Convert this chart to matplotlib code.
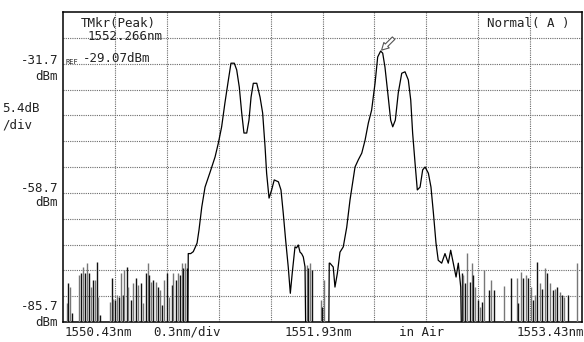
"""
OSA screen: two multi-peak spectra, 1550.43 - 1553.43 nm
"""
import numpy as np
import matplotlib
matplotlib.use("Agg")
import matplotlib.pyplot as plt

# --- data (nm, dBm) -------------------------------------------------------
# values below the display floor are written as -95
hump1_wl = [1551.150, 1551.154, 1551.168, 1551.183, 1551.193, 1551.205, 1551.216,
            1551.232, 1551.251, 1551.280, 1551.309, 1551.328, 1551.347, 1551.366,
            1551.386, 1551.401, 1551.420, 1551.434, 1551.449, 1551.463, 1551.476,
            1551.492, 1551.505, 1551.517, 1551.530, 1551.550, 1551.569, 1551.584,
            1551.598, 1551.607, 1551.621, 1551.636, 1551.651, 1551.675, 1551.690,
            1551.703, 1551.717, 1551.732, 1551.744, 1551.755, 1551.771, 1551.780,
            1551.790, 1551.800, 1551.809, 1551.819, 1551.829, 1551.835]
hump1_dbm = [-95, -71.4, -71.4, -71.0, -70.2, -69.2, -66.5,
             -61.7, -57.5, -54.4, -51.2, -48.3, -44.9, -39.9,
             -35.1, -31.6, -31.6, -33.0, -36.6, -42.0, -46.2,
             -46.2, -43.5, -38.7, -35.8, -35.8, -38.7, -42.0,
             -49.1, -54.6, -59.8, -58.1, -56.0, -56.4, -58.1,
             -62.9, -68.6, -74.2, -79.7, -75.5, -70.0, -70.2,
             -69.6, -71.1, -71.4, -72.1, -74.2, -95]

hump2_wl = [1551.965, 1551.969, 1551.973, 1551.992, 1552.002, 1552.016, 1552.031,
            1552.050, 1552.070, 1552.089, 1552.118, 1552.137, 1552.157, 1552.176,
            1552.195, 1552.214, 1552.234, 1552.249, 1552.266, 1552.278, 1552.291,
            1552.310, 1552.324, 1552.336, 1552.351, 1552.368, 1552.388, 1552.407,
            1552.426, 1552.440, 1552.451, 1552.465, 1552.478, 1552.494, 1552.509,
            1552.523, 1552.542, 1552.557, 1552.571, 1552.586, 1552.599, 1552.619,
            1552.638, 1552.657, 1552.671, 1552.686, 1552.702, 1552.715, 1552.729,
            1552.736]
hump2_dbm = [-95, -73.4, -73.4, -74.2, -78.4, -75.5, -71.1,
             -70.0, -65.9, -60.2, -53.3, -51.8, -50.4, -47.7,
             -44.1, -41.4, -35.7, -30.3, -29.07, -29.5, -32.4,
             -38.7, -43.5, -44.9, -43.5, -37.8, -33.7, -33.4,
             -35.1, -39.3, -46.2, -52.5, -58.1, -57.5, -53.9,
             -53.3, -54.6, -57.5, -62.9, -69.2, -72.8, -73.4,
             -71.4, -73.4, -70.7, -73.4, -76.3, -73.4, -78.4,
             -95]

# noise floor spikes (tops)
noise_wl = [1550.451, 1550.461, 1550.470, 1550.480, 1550.522, 1550.532, 1550.544,
            1550.557, 1550.570, 1550.582, 1550.592, 1550.602, 1550.615, 1550.625,
            1550.634, 1550.644, 1550.702, 1550.712, 1550.721, 1550.731, 1550.744,
            1550.754, 1550.764, 1550.775, 1550.784, 1550.798, 1550.807, 1550.821,
            1550.833, 1550.852, 1550.865, 1550.879, 1550.891, 1550.908, 1550.920,
            1550.929, 1550.939, 1550.952, 1550.966, 1550.977, 1550.991, 1551.004,
            1551.016, 1551.029, 1551.043, 1551.058, 1551.068, 1551.081, 1551.095,
            1551.106, 1551.116, 1551.125, 1551.135, 1551.145,
            1551.839, 1551.848, 1551.858, 1551.868, 1551.920, 1551.929, 1551.940,
            1552.735, 1552.744, 1552.754, 1552.768, 1552.783, 1552.792, 1552.802,
            1552.812, 1552.831, 1552.840, 1552.850, 1552.863, 1552.894, 1552.904,
            1552.921, 1552.979, 1553.018, 1553.053, 1553.062, 1553.076, 1553.091,
            1553.106, 1553.120, 1553.133, 1553.145, 1553.158, 1553.172, 1553.187,
            1553.200, 1553.216, 1553.229, 1553.245, 1553.261, 1553.274, 1553.287,
            1553.303, 1553.313, 1553.326, 1553.351, 1553.399]
noise_dbm = [-81.7, -77.6, -78.3, -83.8, -75.9, -75.5, -74.1,
             -75.5, -73.4, -75.5, -78.3, -76.9, -76.9, -73.1,
             -80.4, -84.2, -81.5, -76.6, -80.8, -81.1, -80.1,
             -80.4, -75.5, -80.1, -74.8, -74.1, -78.3, -81.1,
             -77.6, -76.6, -78.0, -77.6, -81.8, -75.5, -73.4,
             -75.9, -77.3, -76.9, -77.3, -78.3, -79.0, -82.2,
             -76.9, -75.5, -80.4, -78.0, -75.5, -76.9, -75.5,
             -75.9, -73.4, -74.5, -73.4, -74.5,
             -73.8, -74.4, -73.4, -74.8, -81.1, -82.5, -76.9,
             -75.5, -75.9, -77.6, -71.3, -77.3, -73.4, -75.9,
             -78.3, -81.1, -82.5, -81.5, -74.8, -79.0, -76.9,
             -79.0, -78.2, -76.4, -76.6, -81.8, -75.2, -76.6,
             -75.9, -76.6, -78.3, -81.1, -80.1, -73.1, -77.6,
             -78.7, -74.5, -75.5, -77.6, -79.0, -78.7, -78.3,
             -79.4, -80.1, -80.4, -80.1, -73.3]

x_start, x_span = 1550.43, 3.0
ref_level, db_div = -31.7, 5.4
peak_wl, peak_dbm = 1552.266, -29.07

# --- figure ----------------------------------------------------------------
W, H = 584, 342
fig = plt.figure(figsize=(W / 100, H / 100), dpi=100)
ax = fig.add_axes([63 / W, (H - 322) / H, (582 - 63) / W, 310 / H])

y_top = ref_level + 2 * db_div
y_bot = ref_level - 10 * db_div
ax.set_xlim(x_start, x_start + x_span)
ax.set_ylim(y_bot, y_top)

# dotted grid
for i in range(1, 10):
    ax.axvline(x_start + i * x_span / 10, color="#6a6a6a", lw=0.8, ls=(0, (1, 1)), zorder=1)
for j in range(1, 12):
    ax.axhline(y_bot + j * db_div, color="#6a6a6a", lw=0.8, ls=(0, (1, 1)), zorder=1)

ax.set_xticks([])
ax.set_yticks([])
for s in ax.spines.values():
    s.set_linewidth(1.1)
    s.set_color("black")

# noise spikes (alternate dark / gray like the screen dump)
cols = ["#111111" if k % 2 else "#777777" for k in range(len(noise_wl))]
ax.vlines(noise_wl, -95, noise_dbm, colors=cols, lw=1.0, zorder=3)

ax.plot(hump1_wl, hump1_dbm, color="black", lw=0.9, zorder=4)
ax.plot(hump2_wl, hump2_dbm, color="black", lw=0.9, zorder=4)

# peak marker arrow
ax.annotate("", xy=(peak_wl, peak_dbm), xytext=(peak_wl + 0.075, peak_dbm + 2.7),
            arrowprops=dict(arrowstyle="simple,head_width=0.55,head_length=0.5,tail_width=0.25",
                            fc="white", ec="#555555", lw=0.8, shrinkA=0, shrinkB=1),
            zorder=5)

# --- texts -----------------------------------------------------------------
fnt = dict(family="DejaVu Sans Mono", fontsize=9, color="#222222")


def px(x, y, s, ha="left", **kw):
    d = dict(fnt)
    d.update(kw)
    fig.text(x / W, 1 - y / H, s, ha=ha, va="center", **d)


px(81, 23, "TMkr(Peak)")
px(88, 37, "1552.266nm")
px(83, 59, "-29.07dBm")
px(66, 62, "REF", fontsize=5)
px(487, 24, "Normal( A )")

px(58, 60, "-31.7", ha="right")
px(58, 76, "dBm", ha="right")
px(2, 108, "5.4dB")
px(2, 125, "/div")
px(58, 188, "-58.7", ha="right")
px(58, 203, "dBm", ha="right")
px(58, 306, "-85.7", ha="right")
px(58, 322, "dBm", ha="right")

px(65, 332, "1550.43nm")
px(153, 332, "0.3nm/div")
px(318, 332, "1551.93nm", ha="center")
px(421, 332, "in Air", ha="center")
px(584, 332, "1553.43nm", ha="right")

fig.savefig("out.png", dpi=100, facecolor="white")
